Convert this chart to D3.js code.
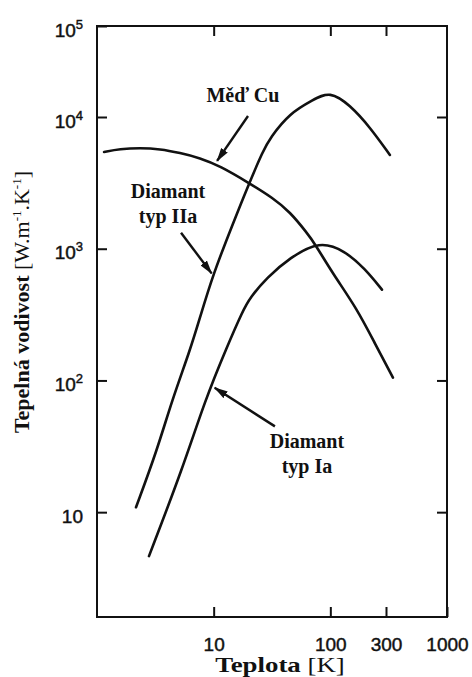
<!DOCTYPE html>
<html>
<head>
<meta charset="utf-8">
<script src="https://cdn.jsdelivr.net/npm/d3@7"></script>
<style>
  html, body { margin: 0; padding: 0; background: #fff; }
  svg { display: block; }
</style>
</head>
<body>
<svg id="chart" width="472" height="677"></svg>
<script>
// Thermal conductivity [W·m⁻¹·K⁻¹] versus temperature [K], log–log

// Copper
const copperT = [1.15, 1.57, 2.34, 3.47, 5.14, 7.63, 11.3, 20.0, 32.2, 45, 63, 73.8, 105, 169, 241, 344];
const copperK = [5430, 5720, 5820, 5720, 5340, 4890, 4250, 3160, 2430, 1905, 1320, 1090, 647, 351, 191, 105];

// Diamond type IIa
const diamond2aT = [2.16, 3.27, 4.39, 6.27, 7.63, 9.86, 14.6, 20.0, 26.5, 30.4, 45, 71, 99, 147, 218, 324];
const diamond2aK = [10.9, 29.5, 70.5, 169, 300, 635, 1546, 3100, 5520, 6930, 11070, 15380, 19300, 13550, 8400, 5150];

// Diamond type Ia
const diamond1aT = [2.79, 5.46, 8.42, 13.0, 17.8, 20.5, 28.6, 45, 81, 133, 198, 277];
const diamond1aK = [4.64, 21.9, 70.5, 180, 339, 425, 603, 855, 1150, 966, 705, 489];

// Axis ticks
const xTickValues = [10, 100, 300, 1000];
const xTickLabels = ["10", "100", "300", "1000"];
const yTickValues = [10, 100, 1000, 10000, 100000];
const yTickExponents = ["", "2", "3", "4", "5"];

// Annotations: label lines and arrows (from -> to), in data units
const labels = [
  { lines: ["Měď Cu"], t: 17.8, k: [14600] },
  { lines: ["Diamant", "typ IIa"], t: 4.06, k: [2430, 1574] },
  { lines: ["Diamant", "typ Ia"], t: 63, k: [30.5, 19.7] }
];
const arrows = [
  { from: [19.7, 10250], to: [10.7, 4640] },
  { from: [5.25, 1320], to: [9.6, 650] },
  { from: [33.5, 44.8], to: [10.2, 88] }
];

const svg = d3.select("#chart");
const plotLeft = 97, plotRight = 447, plotTop = 26, plotBottom = 617;

const x = d3.scaleLog().domain([1, 1000]).range([plotLeft, plotRight]);
// upper decade is drawn compressed, as on the printed axis
const y = d3.scaleLog().domain([1.6, 10000, 100000]).range([plotBottom, 117, plotTop]);

const ink = "#111";

// Curves
const line = d3.line()
  .x(d => x(d[0]))
  .y(d => y(d[1]))
  .curve(d3.curveBasis);

const series = [
  d3.zip(copperT, copperK),
  d3.zip(diamond2aT, diamond2aK),
  d3.zip(diamond1aT, diamond1aK)
];

svg.append("g")
  .selectAll("path")
  .data(series)
  .join("path")
  .attr("d", line)
  .attr("fill", "none")
  .attr("stroke", ink)
  .attr("stroke-width", 2.6)
  .attr("stroke-linecap", "round");

// Axes with inward ticks on all four sides
const sans = "'Liberation Sans', Arial, sans-serif";
const tickStyle = g => {
  g.select(".domain").remove();
  g.selectAll(".tick line").attr("stroke", ink).attr("stroke-width", 2);
};

svg.append("g")
  .attr("transform", `translate(0,${plotBottom})`)
  .call(d3.axisBottom(x).tickValues(xTickValues).tickSize(-10).tickSizeOuter(0)
    .tickPadding(21).tickFormat((d, i) => xTickLabels[i]))
  .call(tickStyle)
  .call(g => g.selectAll(".tick text")
    .attr("font-family", sans)
    .attr("font-size", 19)
    .attr("fill", ink)
    .attr("stroke", ink)
    .attr("stroke-width", 0.45));

svg.append("g")
  .attr("transform", `translate(0,${plotTop})`)
  .call(d3.axisTop(x).tickValues(xTickValues.slice(0, 3)).tickSize(-10).tickSizeOuter(0).tickFormat(""))
  .call(tickStyle);

const yAxis = svg.append("g")
  .attr("transform", `translate(${plotLeft},0)`)
  .call(d3.axisLeft(y).tickValues(yTickValues).tickSize(-10).tickSizeOuter(0).tickFormat(""))
  .call(tickStyle);

yAxis.selectAll(".tick").each(function (d, i) {
  const t = d3.select(this).append("text")
    .attr("x", -14)
    .attr("y", 10)
    .attr("text-anchor", "end")
    .attr("font-family", sans)
    .attr("font-size", 19)
    .attr("fill", ink)
    .attr("stroke", ink)
    .attr("stroke-width", 0.45);
  t.append("tspan").text("10");
  if (yTickExponents[i]) {
    t.append("tspan")
      .attr("font-size", 13)
      .attr("dy", -8)
      .text(yTickExponents[i]);
  }
});

svg.append("g")
  .attr("transform", `translate(${plotRight},0)`)
  .call(d3.axisRight(y).tickValues(yTickValues.slice(0, 4)).tickSize(-10).tickSizeOuter(0).tickFormat(""))
  .call(tickStyle);

// Frame
svg.append("rect")
  .attr("x", plotLeft).attr("y", plotTop)
  .attr("width", plotRight - plotLeft).attr("height", plotBottom - plotTop)
  .attr("fill", "none")
  .attr("stroke", ink)
  .attr("stroke-width", 2);

// Axis titles
const serif = "'Liberation Serif', 'Times New Roman', serif";

// x title set in a horizontally widened face
const xTitle = svg.append("text")
  .attr("transform", "translate(280,672) scale(1.28,1)")
  .attr("text-anchor", "middle")
  .attr("font-family", serif)
  .attr("font-size", 21)
  .attr("fill", ink);
xTitle.append("tspan").attr("font-weight", "bold").text("Teplota ");
xTitle.append("tspan").text("[K]");

const yTitle = svg.append("text")
  .attr("transform", "translate(29,302) rotate(-90)")
  .attr("text-anchor", "middle")
  .attr("font-family", serif)
  .attr("font-size", 22)
  .attr("fill", ink);
yTitle.append("tspan").attr("font-weight", "bold").text("Tepelná vodivost ");
yTitle.append("tspan").text("[W.m");
yTitle.append("tspan").attr("font-size", 13).attr("dy", -8).text("-1");
yTitle.append("tspan").attr("dy", 8).text(".K");
yTitle.append("tspan").attr("font-size", 13).attr("dy", -8).text("-1");
yTitle.append("tspan").attr("dy", 8).text("]");

// Arrowhead
svg.append("defs").append("marker")
  .attr("id", "head")
  .attr("markerUnits", "userSpaceOnUse")
  .attr("viewBox", "0 0 14 8")
  .attr("markerWidth", 14).attr("markerHeight", 8)
  .attr("refX", 13).attr("refY", 4)
  .attr("orient", "auto")
  .append("path")
  .attr("d", "M0,0 L14,4 L0,8 Z")
  .attr("fill", ink);

svg.append("g")
  .selectAll("line")
  .data(arrows)
  .join("line")
  .attr("x1", d => x(d.from[0])).attr("y1", d => y(d.from[1]))
  .attr("x2", d => x(d.to[0])).attr("y2", d => y(d.to[1]))
  .attr("stroke", ink)
  .attr("stroke-width", 2.4)
  .attr("marker-end", "url(#head)");

// Curve labels
labels.forEach(l => {
  l.lines.forEach((s, i) => {
    svg.append("text")
      .attr("x", x(l.t)).attr("y", y(l.k[i]))
      .attr("text-anchor", "middle")
      .attr("font-family", serif)
      .attr("font-weight", "bold")
      .attr("font-size", 20)
      .attr("fill", ink)
      .text(s);
  });
});
</script>
</body>
</html>
